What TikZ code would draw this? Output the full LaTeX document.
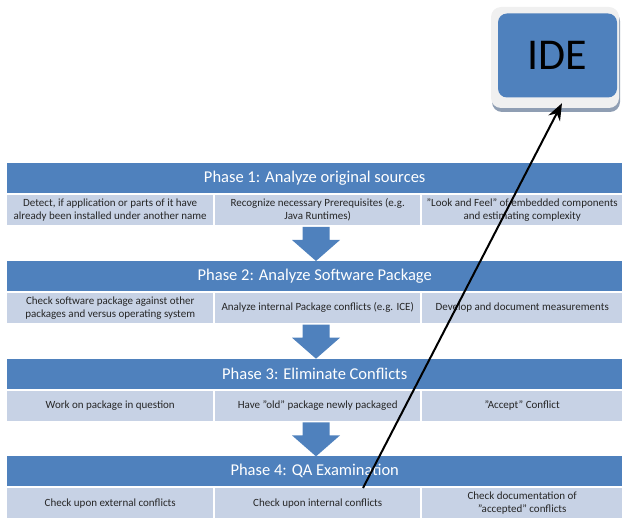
\documentclass[tikz,border=0pt]{standalone}
\usepackage{fontspec}
\setmainfont{Carlito}
\usetikzlibrary{arrows.meta,calc}
\definecolor{phaseblue}{RGB}{79,129,189}
\definecolor{taskblue}{RGB}{199,210,229}
\definecolor{framegray}{RGB}{240,240,240}
\definecolor{shadowgray}{RGB}{143,158,179}
\tikzset{
  phasebar/.style={fill=phaseblue, text=white, minimum width=615pt, minimum height=30pt,
    inner sep=0pt, anchor=north west, font=\fontsize{16.5}{18}\selectfont},
  taskbox/.style={fill=taskblue, text=black!85, minimum height=30pt, inner sep=0pt,
    anchor=north west, align=center, font=\fontsize{11}{13}\selectfont},
  ideframe/.style={fill=framegray, rounded corners=10pt, minimum width=128pt, minimum height=101pt},
  idecore/.style={fill=phaseblue, rounded corners=9pt, minimum width=119pt, minimum height=84pt,
    font=\fontsize{44}{44}\selectfont},
}
\begin{document}
\begin{tikzpicture}[x=1pt,y=-1pt]
    \useasboundingbox (0,0) rectangle (622,518);
    % Phases with their tasks
    \foreach \i/\title/\ta/\tb/\tc in {
        1/{Phase 1: Analyze original sources}/{Detect, if application or parts of it have\\already been installed under another name}/{Recognize necessary Prerequisites (e.g.\\Java Runtimes)}/{"Look and Feel" of embedded components\\and estimating complexity},
        2/{Phase 2: Analyze Software Package}/{Check software package against other\\packages and versus operating system}/{Analyze internal Package conflicts (e.g. ICE)}/{Develop and document measurements},
        3/{Phase 3: Eliminate Conflicts}/{Work on package in question}/{Have "old" package newly packaged}/{"Accept" Conflict},
        4/{Phase 4: QA Examination}/{Check upon external conflicts}/{Check upon internal conflicts}/{Check documentation of\\"accepted" conflicts}} {
            \pgfmathsetmacro{\ytop}{163+97.7*(\i-1)}
            \node[phasebar] (phase\i) at (7,\ytop) {\title};
            \node[taskbox, minimum width=206pt] (s\i-a) at (7,\ytop+32) {\ta};
            \node[taskbox, minimum width=205pt] (s\i-b) at (215,\ytop+32) {\tb};
            \node[taskbox, minimum width=200pt] (s\i-c) at (422,\ytop+32) {\tc};
        }
    % Block arrows between phases
    \foreach \i in {1,2,3} {
            \pgfmathsetmacro{\ya}{163+97.7*(\i-1)+64}
            \fill[phaseblue] (302.5,\ya) -- (329.5,\ya) -- (329.5,\ya+13) -- (340,\ya+13)
                -- (316,\ya+34) -- (292,\ya+13) -- (302.5,\ya+13) -- cycle;
        }
    % IDE box
    \node[ideframe, fill=shadowgray] at (556,61.5) {};
    \node[ideframe] (ide) at (555,57.5) {};
    \node[idecore] (idecore) at (557.5,55.5) {IDE};
    % Link from QA to IDE
    \coordinate (qa) at (363,488);
    \coordinate (tip) at ($(ide.south)+(7,-5)$);
    \draw[-{Stealth[length=17pt,width=13pt]}, line width=2pt] (qa) -- (tip);
\end{tikzpicture}
\end{document}
